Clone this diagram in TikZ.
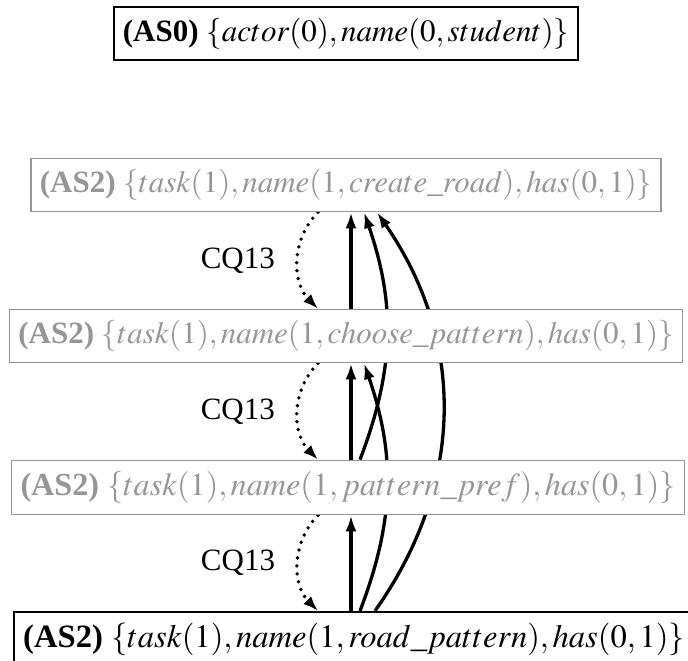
\documentclass[tikz,border=0pt]{standalone}
\usepackage{mathptmx}
\usepackage{fontspec}
\setmainfont{Liberation Serif}
\usetikzlibrary{arrows.meta}

\pgfdeclarelayer{edges}
\pgfsetlayers{edges,main}
\definecolor{faded}{RGB}{150,150,150}

\tikzset{
	every node/.style={font=\fontsize{31}{36}\selectfont},
	wide/.style={font=\fontsize{32.2}{37}\selectfont},
	wider/.style={font=\fontsize{32.6}{37}\selectfont},
	state/.style={draw=black, fill=white, line width=1.6pt, inner xsep=9pt, inner ysep=11pt},
	oldstate/.style={state, draw=faded, text=faded},
	link/.style={line width=3.3pt, -{Latex[length=16pt,width=11pt]}},
	attack/.style={line width=3.8pt, line cap=round, dash pattern=on 0pt off 8pt, -{Latex[length=15pt,width=11pt]}, bend right=45}
}

\begin{document}
\begin{tikzpicture}[x=1pt,y=1pt]
		\useasboundingbox (0,0) rectangle (688,-661);
		\coordinate (spine) at (351,0);
		\node [state] (as0) at (346,-33.5) {\textbf{(AS0)} $\{actor(0), name(0, student)\}$};
		\node [oldstate] (create) at (346,-185) {\textbf{(AS2)} $\{task(1), name(1, create\_road), has(0,1)\}$};
		\node [oldstate] (choose) at (346,-336) {\textbf{(AS2)} $\{task(1), name(1, choose\_pattern), has(0,1)\}$};
		\node [oldstate, wide] (pref) at (348,-487.5) {\textbf{(AS2)} $\{task(1), name(1, pattern\_pref), has(0,1)\}$};
		\node [state, wider] (road) at (354,-639) {\textbf{(AS2)} $\{task(1), name(1, road\_pattern), has(0,1)\}$};
		\begin{pgfonlayer}{edges}
		% straight support links
		\foreach \a/\b in {road/pref, pref/choose, choose/create}
			\draw [link] (spine |- \a.north) -- (spine |- \b.south);
		% critical questions
		\foreach \a/\b in {create/choose, choose/pref, pref/road}
			\draw [attack] ([xshift=-33pt]spine |- \a.south) to node [midway, left=18pt] {CQ13} ([xshift=-33pt]spine |- \b.north);
		% longer links
		\draw [link] ([xshift=9pt]spine |- road.north) to [bend right=20] ([xshift=13pt]spine |- choose.south);
		\draw [link] ([xshift=9pt]spine |- pref.north) to [bend right=20] ([xshift=13pt]spine |- create.south);
		\draw [link] ([xshift=24pt]spine |- road.north) to [bend right=35] ([xshift=26pt]spine |- create.south);
		\end{pgfonlayer}
\end{tikzpicture}
\end{document}
